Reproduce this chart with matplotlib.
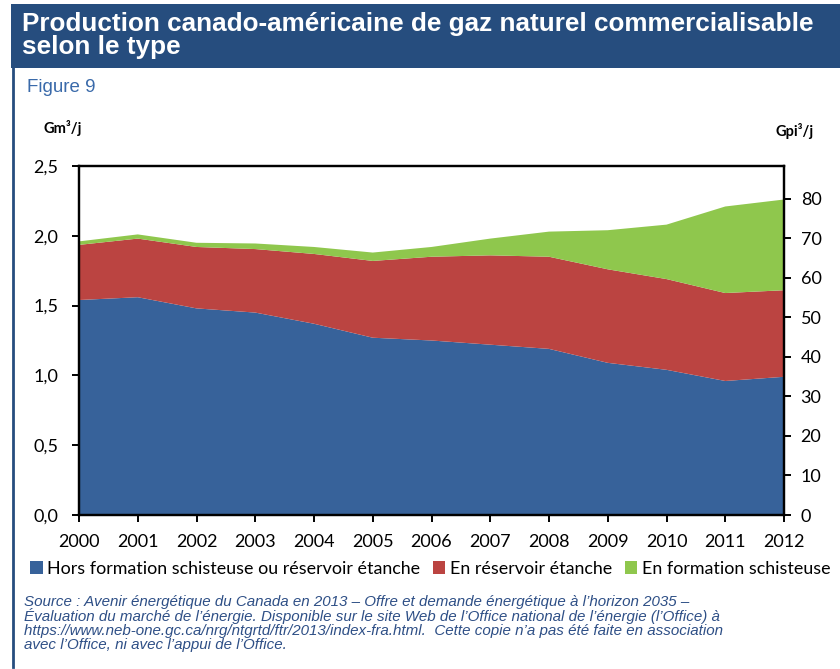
import matplotlib
matplotlib.use("Agg")
import matplotlib.pyplot as plt
from matplotlib.patches import Rectangle, Patch
from matplotlib.lines import Line2D

# Production commercialisable, Gm3/j, par type
years = [2000, 2001, 2002, 2003, 2004, 2005, 2006, 2007, 2008, 2009, 2010, 2011, 2012]
conventionnel = [1.54, 1.56, 1.48, 1.45, 1.37, 1.27, 1.25, 1.22, 1.19, 1.09, 1.04, 0.96, 0.99]
reservoir_etanche = [0.395, 0.42, 0.44, 0.455, 0.50, 0.55, 0.60, 0.64, 0.66, 0.67, 0.65, 0.63, 0.62]
schiste = [0.025, 0.03, 0.03, 0.04, 0.05, 0.06, 0.07, 0.12, 0.18, 0.28, 0.39, 0.62, 0.65]

noms = ["Hors formation schisteuse ou réservoir étanche",
        "En réservoir étanche",
        "En formation schisteuse"]
couleurs = ["#37629a", "#bb4441", "#8fc74d"]

left_ticks = [0.0, 0.5, 1.0, 1.5, 2.0, 2.5]
right_ticks = [0, 10, 20, 30, 40, 50, 60, 70, 80]
GPI_PAR_GM = 35.31

W, H = 840, 669
fig = plt.figure(figsize=(W / 100, H / 100), dpi=100)

# bandeau de titre + filet gauche
fig.patches.append(Rectangle((11 / W, 1 - 68 / H), 1, 64 / H, transform=fig.transFigure,
                             facecolor="#264d7e", edgecolor="none", zorder=0))
fig.add_artist(Line2D([12.5 / W, 12.5 / W], [1 - 68 / H, 2 / H], transform=fig.transFigure,
                      color="#264d7e", lw=2))
fig.text(22 / W, 1 - 12 / H, "Production canado-américaine de gaz naturel commercialisable\nselon le type",
         color="white", fontsize=18.8, fontweight="bold", family="Liberation Sans",
         va="top", ha="left", linespacing=0.96)
fig.text(27 / W, 1 - 88 / H, "Figure 9", color="#3a6aaa", fontsize=13.5,
         family="Liberation Sans", va="center", ha="left")

ax = fig.add_axes([79 / W, 1 - 515 / H, (784 - 79) / W, (515 - 166) / H])
ax.stackplot(years, conventionnel, reservoir_etanche, schiste, colors=couleurs, lw=0)
ax.set_xlim(2000, 2012)
ax.set_ylim(0, 2.5)
ax.set_xticks(years)
ax.set_xticklabels([str(y) for y in years])
ax.set_yticks(left_ticks)
ax.set_yticklabels([f"{t:.1f}".replace(".", ",") for t in left_ticks])
for s in ax.spines.values():
    s.set_linewidth(1.6)
ax.tick_params(direction="out", length=5, width=1.4, labelsize=13)
ax.tick_params(axis="x", pad=9)
ax.tick_params(axis="y", pad=10)
for lab in ax.get_xticklabels() + ax.get_yticklabels():
    lab.set_family("Lato")

ax2 = ax.twinx()
ax2.set_ylim(0, 2.5 * GPI_PAR_GM)
ax2.set_yticks(right_ticks)
ax2.tick_params(direction="out", length=5, width=1.4, labelsize=13, pad=7)
for lab in ax2.get_yticklabels():
    lab.set_family("Lato")
for s in ax2.spines.values():
    s.set_linewidth(1.6)

fig.text(43 / W, 1 - 128 / H, "Gm³/j", fontsize=10.5, fontweight="bold", family="Lato",
         va="center", ha="left")
fig.text(776 / W, 1 - 131 / H, "Gpi³/j", fontsize=10.5, fontweight="bold", family="Lato",
         va="center", ha="left")

handles = [Patch(facecolor=c, edgecolor="none") for c in couleurs]
fig.legend(handles, noms, loc="center left", bbox_to_anchor=(30 / W, 1 - 569 / H),
           ncol=3, frameon=False, handlelength=0.7, handleheight=0.7,
           handletextpad=0.25, columnspacing=0.7, borderaxespad=0, borderpad=0,
           prop={"family": "Lato", "size": 12.9})

fig.text(24 / W, 1 - 595 / H,
         "Source : Avenir énergétique du Canada en 2013 – Offre et demande énergétique à l’horizon 2035 –\n"
         "Évaluation du marché de l’énergie. Disponible sur le site Web de l’Office national de l’énergie (l’Office) à\n"
         "https://www.neb-one.gc.ca/nrg/ntgrtd/ftr/2013/index-fra.html.  Cette copie n’a pas été faite en association\n"
         "avec l’Office, ni avec l’appui de l’Office.",
         color="#2e4f86", fontsize=10.9, style="italic", family="Liberation Sans",
         va="top", ha="left", linespacing=0.96)

fig.savefig("out.png", dpi=100)
